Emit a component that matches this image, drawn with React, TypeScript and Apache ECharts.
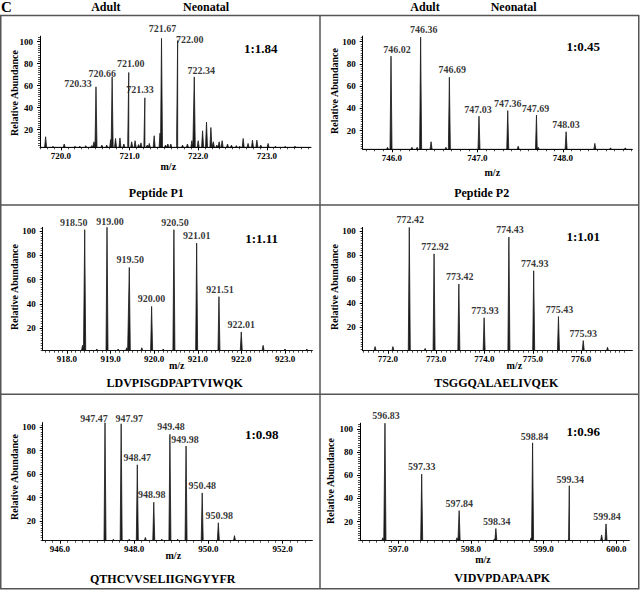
import React, { useEffect, useRef } from "react";
import * as echarts from "echarts";

const FONT = "'Liberation Serif', 'Times New Roman', Times, serif";

// ---------- shared texts / ticks ----------
const panelLetter = "C";
const columnHeaders = ["Adult", "Neonatal"];
const yTicks = [20, 40, 60, 80, 100];
const xAxisName = "m/z";
const yAxisName = "Relative Abundance";

// ---------- Panel 1: Peptide P1 ----------
const p1Title = "Peptide P1";
const p1Ratio = "1:1.84";
const p1Ticks = [720, 721, 722, 723];
const p1PeakMz = [720.33, 720.66, 721.0, 721.33, 721.67, 722.0, 722.34];
const p1PeakInt = [59, 68, 72, 49, 103, 101, 68];
const p1NoiseMz = [719.3, 719.45, 719.68, 719.9, 720.0, 720.12, 720.24, 720.29, 720.45, 720.55, 720.63, 720.73, 720.82, 720.9, 720.98, 721.06, 721.13, 721.2, 721.25, 721.31, 721.38, 721.42, 721.52, 721.64, 721.75, 721.8, 721.86, 721.98, 722.1, 722.2, 722.29, 722.42, 722.51, 722.59, 722.68, 722.73, 722.8, 722.85, 722.91, 723.02, 723.1, 723.2, 723.27, 723.34, 723.44, 723.53, 723.62, 723.7, 723.85, 724.0, 724.2, 724.4];
const p1NoiseInt = [13.6, 5, 7, 5, 5, 5.5, 5.5, 9, 6, 6, 11, 12, 12.5, 7, 11, 9, 10, 6.5, 8, 7.5, 6, 7.5, 14.5, 17, 6, 7, 7, 17, 6, 7, 10, 10, 19, 27, 22, 9, 6, 9, 10, 7, 6, 5.5, 5, 12, 7.5, 10.5, 10.5, 6, 7.5, 5, 5, 5];

// ---------- Panel 2: Peptide P2 ----------
const p2Title = "Peptide P2";
const p2Ratio = "1:0.45";
const p2Ticks = [746, 747, 748];
const p2PeakMz = [746.02, 746.36, 746.69, 747.03, 747.36, 747.69, 748.03];
const p2PeakInt = [87, 104, 68, 33, 38, 34, 19];
const p2NoiseMz = [745.98, 746.26, 746.32, 746.48, 746.65, 747.48, 747.71, 748.36, 748.54, 748.71];
const p2NoiseInt = [5, 5, 5, 10, 5, 6, 5, 8.5, 4.5, 4.5];

// ---------- Panel 3: LDVPISGDPAPTVIWQK ----------
const p3Title = "LDVPISGDPAPTVIWQK";
const p3Ratio = "1:1.11";
const p3Ticks = [918, 919, 920, 921, 922, 923];
const p3PeakMz = [918.5, 919.0, 919.5, 920.0, 920.5, 921.01, 921.51, 922.01];
const p3PeakInt = [101, 103, 70, 38, 101, 90, 46, 17];
const p3NoiseMz = [918.45, 918.77, 919.25, 919.44, 919.78, 920.26, 922.5, 922.99, 923.48];
const p3NoiseInt = [6, 3, 3, 4, 4, 3, 6, 3, 3];

// ---------- Panel 4: TSGGQALAELIVQEK ----------
const p4Title = "TSGGQALAELIVQEK";
const p4Ratio = "1:1.01";
const p4Ticks = [772, 773, 774, 775, 776];
const p4PeakMz = [772.42, 772.92, 773.42, 773.93, 774.43, 774.93, 775.43, 775.93];
const p4PeakInt = [103, 81, 56, 28, 95, 67, 29, 9];
const p4NoiseMz = [771.73, 772.09, 772.74, 776.42];
const p4NoiseInt = [4, 4, 2.5, 3.5];

// ---------- Panel 5: QTHCVVSELIIGNGYYFR ----------
const p5Title = "QTHCVVSELIIGNGYYFR";
const p5Ratio = "1:0.98";
const p5Ticks = [946, 948, 950, 952];
const p5PeakMz = [947.47, 947.97, 948.47, 948.98, 949.48, 949.98, 950.48, 950.98];
const p5PeakInt = [104, 103, 68, 36, 94, 84, 44, 18.5];
const p5NoiseMz = [947.73, 948.22, 948.72, 949.23, 949.72, 951.48];
const p5NoiseInt = [4.5, 4.5, 6, 4.5, 4.5, 7.5];

// ---------- Panel 6: VIDVPDAPAAPK ----------
const p6Title = "VIDVPDAPAAPK";
const p6Ratio = "1:0.96";
const p6Ticks = [597, 598, 599, 600];
const p6PeakMz = [596.83, 597.33, 597.84, 598.34, 598.84, 599.34, 599.84];
const p6PeakInt = [105, 61, 29.5, 14, 88, 51, 18];
const p6NoiseMz = [596.8, 597.81, 598.32, 598.82, 599.33, 599.78];
const p6NoiseInt = [6, 6, 5, 6, 6, 8.5];

// ---------- layout (positions / styles) ----------
type Layout = {
  grid: [number, number, number, number];
  y: [number, number];
  tickAxis: [number, number];
  dataAxis: [number, number];
  split: number;
  ratioPos: [number, number];
  titlePos: [number, number];
  mzPos: [number, number];
  yNamePos: [number, number];
  labelShift: [number, number][];
};

const layouts: Layout[] = [
  {
    grid: [40, 36.2, 271, 111.1], y: [4, 105], tickAxis: [719.694, 723.644], dataAxis: [719.185, 724.727], split: 4,
    ratioPos: [260.8, 48.3], titlePos: [156.3, 192.7], mzPos: [168.3, 166.7], yNamePos: [14, 93],
    labelShift: [[-18, 4], [-10, 4], [2, -2], [-5, -1], [1, -2], [12, 6], [7, 1]],
  },
  {
    grid: [362.7, 36.1, 269.6, 113.2], y: [3.2, 105], tickAxis: [745.66, 748.81], dataAxis: [745.695, 748.79], split: 3,
    ratioPos: [583.3, 46.7], titlePos: [481.7, 192.7], mzPos: [492.3, 172.3], yNamePos: [334, 91],
    labelShift: [[6, 1], [3, 0], [3, 0], [-1, 1], [0, 0], [-1, 1], [0, 0]],
  },
  {
    grid: [42.7, 227.3, 269.6, 123.4], y: [1.6, 103], tickAxis: [917.443, 923.626], dataAxis: [917.558, 923.603], split: 6,
    ratioPos: [261.7, 238.3], titlePos: [174.7, 383.3], mzPos: [176.7, 365], yNamePos: [14, 287],
    labelShift: [[-11, 0], [3, 2], [1, 0], [0, 0], [1, 0], [0, 0], [1, 0], [0, 0]],
  },
  {
    grid: [362.7, 227.4, 269.6, 123.3], y: [0.6, 103], tickAxis: [771.48, 777.06], dataAxis: [771.48, 776.92], split: 5,
    ratioPos: [583.3, 236.7], titlePos: [496.2, 383.3], mzPos: [514.3, 365], yNamePos: [334, 287],
    labelShift: [[1, 0], [1, 0], [1, 0], [1, 0], [1, 0], [1, 0], [1, 0], [0, 0]],
  },
  {
    grid: [42.7, 422.6, 269.6, 118.1], y: [3.2, 104], tickAxis: [945.534, 952.798], dataAxis: [945.54, 953.89], split: 4,
    ratioPos: [261.7, 434], titlePos: [162.7, 579.3], mzPos: [173.3, 555], yNamePos: [14, 477],
    labelShift: [[-11, 3], [8, 2], [0, 0], [-2, 0], [1, 0], [-1, 1], [0, 0], [1, 0]],
  },
  {
    grid: [360, 423.2, 269.3, 117.5], y: [3.5, 105], tickAxis: [596.473, 600.179], dataAxis: [596.49, 600.157], split: 4,
    ratioPos: [583.3, 431.7], titlePos: [502.2, 578.3], mzPos: [483, 559], yNamePos: [330, 481],
    labelShift: [[1, 0], [0, 0], [0, 0], [1, 0], [2, 1], [1, 1], [1, 0]],
  },
];

const panelData = [
  { title: p1Title, ratio: p1Ratio, ticks: p1Ticks, peakMz: p1PeakMz, peakInt: p1PeakInt, noiseMz: p1NoiseMz, noiseInt: p1NoiseInt },
  { title: p2Title, ratio: p2Ratio, ticks: p2Ticks, peakMz: p2PeakMz, peakInt: p2PeakInt, noiseMz: p2NoiseMz, noiseInt: p2NoiseInt },
  { title: p3Title, ratio: p3Ratio, ticks: p3Ticks, peakMz: p3PeakMz, peakInt: p3PeakInt, noiseMz: p3NoiseMz, noiseInt: p3NoiseInt },
  { title: p4Title, ratio: p4Ratio, ticks: p4Ticks, peakMz: p4PeakMz, peakInt: p4PeakInt, noiseMz: p4NoiseMz, noiseInt: p4NoiseInt },
  { title: p5Title, ratio: p5Ratio, ticks: p5Ticks, peakMz: p5PeakMz, peakInt: p5PeakInt, noiseMz: p5NoiseMz, noiseInt: p5NoiseInt },
  { title: p6Title, ratio: p6Ratio, ticks: p6Ticks, peakMz: p6PeakMz, peakInt: p6PeakInt, noiseMz: p6NoiseMz, noiseInt: p6NoiseInt },
];

const PEAK_HALF_WIDTH_PX = 1.0;
const INK = "#000";
const PEAK_COLOR = "#1a1a1a";
const BORDER = "#555";

function text(x: number, y: number, str: string, size: number, extra: any = {}) {
  return {
    type: "text",
    x,
    y,
    ...extra,
    style: {
      text: str,
      fill: INK,
      fontSize: size,
      fontWeight: "bold",
      fontFamily: FONT,
      align: extra.align || "center",
      verticalAlign: "middle",
    },
  };
}

function buildOption() {
  const grids: any[] = [];
  const xAxes: any[] = [];
  const yAxes: any[] = [];
  const series: any[] = [];
  const elements: any[] = [];

  panelData.forEach((d, i) => {
    const L = layouts[i];
    grids.push({
      left: L.grid[0],
      top: L.grid[1],
      width: L.grid[2],
      height: L.grid[3],
      containLabel: false,
      outerBoundsMode: "none",
    });
    xAxes.push({
      type: "value",
      gridIndex: i,
      min: L.tickAxis[0],
      max: L.tickAxis[1],
      splitNumber: L.split,
      axisLine: { show: true, onZero: false, lineStyle: { color: INK, width: 1 } },
      axisTick: { show: true, length: 3, customValues: d.ticks, lineStyle: { color: INK, width: 1 } },
      minorTick: { show: true, splitNumber: 10, length: 2, lineStyle: { color: INK, width: 0.7 } },
      axisLabel: {
        customValues: d.ticks,
        formatter: (v: number) => v.toFixed(1),
        fontSize: 9,
        fontWeight: "bold",
        fontFamily: FONT,
        color: INK,
        margin: 4,
      },
      splitLine: { show: false },
    });
    xAxes.push({
      type: "value",
      gridIndex: i,
      min: L.dataAxis[0],
      max: L.dataAxis[1],
      show: false,
      splitLine: { show: false },
    });
    yAxes.push({
      type: "value",
      gridIndex: i,
      min: L.y[0],
      max: L.y[1],
      splitNumber: 5,
      axisLine: { show: true, onZero: false, lineStyle: { color: INK, width: 1 } },
      axisTick: { show: true, length: 3, customValues: yTicks, lineStyle: { color: INK, width: 1 } },
      minorTick: { show: true, splitNumber: 10, length: 2, lineStyle: { color: INK, width: 0.7 } },
      axisLabel: {
        customValues: yTicks,
        fontSize: 9,
        fontWeight: "bold",
        fontFamily: FONT,
        color: INK,
        margin: 7,
      },
      splitLine: { show: false },
    });

    const base = L.y[0];
    const pxPerUnit = L.grid[2] / (L.dataAxis[1] - L.dataAxis[0]);
    const hw = PEAK_HALF_WIDTH_PX / pxPerUnit;
    const all: [number, number][] = [];
    d.peakMz.forEach((m, k) => all.push([m, d.peakInt[k]]));
    d.noiseMz.forEach((m, k) => all.push([m, d.noiseInt[k]]));
    const pts: [number, number][] = [];
    all.forEach(([m, h]) => {
      pts.push([m - hw, base], [m, h], [m + hw, base]);
    });
    pts.sort((a, b) => a[0] - b[0]);
    pts.unshift([L.dataAxis[0], base]);
    pts.push([L.dataAxis[1], base]);

    series.push({
      type: "line",
      xAxisIndex: 2 * i + 1,
      yAxisIndex: i,
      data: pts,
      symbol: "none",
      silent: true,
      lineStyle: { color: PEAK_COLOR, width: 0.8 },
      areaStyle: { color: PEAK_COLOR, opacity: 1, origin: "start" },
    });
    series.push({
      type: "scatter",
      xAxisIndex: 2 * i + 1,
      yAxisIndex: i,
      symbolSize: 1,
      silent: true,
      itemStyle: { color: "rgba(0,0,0,0)" },
      data: d.peakMz.map((m, k) => ({
        value: [m, d.peakInt[k]],
        label: { offset: L.labelShift[k] || [0, 0] },
      })),
      label: {
        show: true,
        position: "top",
        distance: 2,
        formatter: (q: any) => Number(q.value[0]).toFixed(2),
        fontSize: 10,
        fontWeight: "bold",
        fontFamily: FONT,
        color: INK,
      },
    });

    elements.push(text(L.ratioPos[0], L.ratioPos[1], d.ratio, 13));
    elements.push(text(L.titlePos[0], L.titlePos[1], d.title, 12));
    elements.push(text(L.mzPos[0], L.mzPos[1], xAxisName, 10));
    elements.push(text(L.yNamePos[0], L.yNamePos[1], yAxisName, 10, { rotation: Math.PI / 2 }));
  });

  // frame
  elements.push({
    type: "rect",
    shape: { x: 0.75, y: 15.5, width: 638, height: 573.2 },
    style: { fill: "none", stroke: BORDER, lineWidth: 1.5 },
  });
  elements.push({ type: "line", shape: { x1: 320, y1: 15.5, x2: 320, y2: 588.7 }, style: { stroke: BORDER, lineWidth: 1.5 } });
  elements.push({ type: "line", shape: { x1: 0.75, y1: 205, x2: 638.75, y2: 205 }, style: { stroke: BORDER, lineWidth: 1.5 } });
  elements.push({ type: "line", shape: { x1: 0.75, y1: 394.3, x2: 638.75, y2: 394.3 }, style: { stroke: BORDER, lineWidth: 1.5 } });

  // headers
  elements.push(text(1, 7, panelLetter, 15, { align: "left" }));
  elements.push(text(105.8, 7.3, columnHeaders[0], 12));
  elements.push(text(206, 7.3, columnHeaders[1], 12));
  elements.push(text(425, 7.3, columnHeaders[0], 12));
  elements.push(text(513.7, 7.3, columnHeaders[1], 12));

  return {
    animation: false,
    backgroundColor: "#fff",
    grid: grids,
    xAxis: xAxes,
    yAxis: yAxes,
    series,
    graphic: { elements },
  };
}

export default function App() {
  const ref = useRef<HTMLDivElement>(null);
  useEffect(() => {
    if (!ref.current) return;
    const chart = echarts.init(ref.current, undefined, { renderer: "svg" });
    chart.setOption(buildOption() as any);
    return () => chart.dispose();
  }, []);
  return (
    <div
      ref={ref}
      style={{ position: "fixed", left: 0, top: 0, width: 640, height: 591, background: "#fff" }}
    />
  );
}
